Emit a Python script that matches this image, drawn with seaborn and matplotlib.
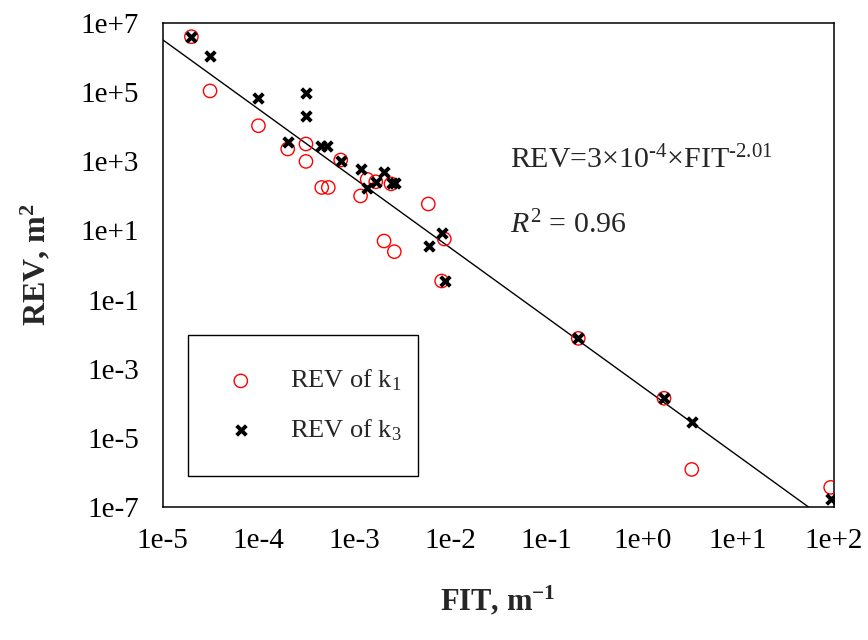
import numpy as np
import pandas as pd
import matplotlib
matplotlib.use("Agg")
import matplotlib.pyplot as plt
import seaborn as sns

# Representative elementary volume (REV) versus fracture intensity (FIT)
fit_k1 = [2.0e-5, 3.13e-5, 1.0e-4, 2.02e-4, 3.13e-4, 3.13e-4, 4.57e-4, 5.35e-4,
          7.21e-4, 1.16e-3, 1.36e-3, 1.67e-3, 2.41e-3, 5.9e-3, 2.04e-3, 2.61e-3,
          8.67e-3, 8.13e-3, 0.216, 1.69, 3.29, 92.3]
rev_k1 = [4.1e6, 1.1e5, 1.08e4, 2.29e3, 3.2e3, 1.0e3, 176, 176,
          1.1e3, 100, 302, 257, 224, 58.5, 4.95, 2.43,
          5.66, 0.344, 7.5e-3, 1.38e-4, 1.2e-6, 3.63e-7]

fit_k3 = [2.0e-5, 3.13e-5, 1.0e-4, 3.13e-4, 3.13e-4, 2.02e-4, 4.49e-4, 5.22e-4,
          7.21e-4, 1.16e-3, 1.36e-3, 1.67e-3, 2.05e-3, 2.49e-3, 2.65e-3, 6.04e-3,
          8.13e-3, 8.81e-3, 0.216, 1.69, 3.29, 92.3]
rev_k3 = [4.1e6, 1.15e6, 6.7e4, 9.8e4, 2.07e4, 3.58e3, 2.8e3, 2.8e3,
          1.03e3, 603, 174, 257, 501, 234, 234, 3.62,
          8.28, 0.344, 7.5e-3, 1.38e-4, 2.88e-5, 1.62e-7]

# Power-law fit REV = a * FIT^b
fit_a = 3e-4
fit_b = -2.01
r_squared = 0.96

x_ticks = [1e-5, 1e-4, 1e-3, 1e-2, 1e-1, 1e0, 1e1, 1e2]
x_tick_labels = ["1e-5", "1e-4", "1e-3", "1e-2", "1e-1", "1e+0", "1e+1", "1e+2"]
y_ticks = [1e-7, 1e-5, 1e-3, 1e-1, 1e1, 1e3, 1e5, 1e7]
y_tick_labels = ["1e-7", "1e-5", "1e-3", "1e-1", "1e+1", "1e+3", "1e+5", "1e+7"]

sns.set_theme(style="white")
plt.rcParams.update({
    "font.family": ["Liberation Serif", "DejaVu Serif"],
    "mathtext.fontset": "custom",
    "mathtext.rm": "Liberation Serif",
    "mathtext.it": "Liberation Serif:italic",
    "mathtext.bf": "Liberation Serif:bold",
    "axes.edgecolor": "black",
    "axes.linewidth": 1.1,
})

fig = plt.figure(figsize=(8.68, 6.4), dpi=100)
ax = fig.add_axes([162.5 / 868, 1 - 506.7 / 640, (834 - 162.5) / 868, (506.7 - 23.3) / 640])

# fitted trend line across the full FIT range
line_x = np.array([x_ticks[0], x_ticks[-1]])
line_df = pd.DataFrame({"FIT": line_x, "REV": fit_a * line_x ** fit_b})
sns.lineplot(data=line_df, x="FIT", y="REV", ax=ax, color="black", linewidth=1.0,
             zorder=2, legend=False)

sns.scatterplot(x=fit_k1, y=rev_k1, ax=ax, marker="o", s=92, facecolor="none",
                edgecolor="#ff0000", linewidth=1.0, label=r"REV of k$_1$", zorder=3)
sns.scatterplot(x=fit_k3, y=rev_k3, ax=ax, marker="x", s=48, color="black",
                linewidth=2.8, label=r"REV of k$_3$", zorder=4)

ax.set_xscale("log")
ax.set_yscale("log")
ax.set_xlim(x_ticks[0], x_ticks[-1])
ax.set_ylim(y_ticks[0], y_ticks[-1])
ax.set_xticks(x_ticks)
ax.set_xticklabels(x_tick_labels)
ax.set_yticks(y_ticks)
ax.set_yticklabels(y_tick_labels)
ax.minorticks_off()
ax.tick_params(axis="both", which="major", direction="out", length=5, width=1.0,
               color="black", labelsize=21, labelcolor="black")
ax.tick_params(axis="x", pad=10)
ax.tick_params(axis="y", pad=12)
for side in ["top", "right", "bottom", "left"]:
    ax.spines[side].set_visible(True)
    ax.spines[side].set_color("black")

ax.set_xlabel(r"FIT, m$^{\mathbf{-1}}$", fontsize=22, fontweight="bold", labelpad=22)
ax.set_ylabel(r"REV, m$^{\mathbf{2}}$", fontsize=23, fontweight="bold", labelpad=20)

ax.text(0.518, 0.700, r"REV=3$\times$10$^{\text{-4}}$$\times$FIT$^{\text{-2.01}}$",
        transform=ax.transAxes, fontsize=21.5, va="baseline", ha="left")
ax.text(0.518, 0.566, r"$R^2$ = " + f"{r_squared:.2f}",
        transform=ax.transAxes, fontsize=21.5, va="baseline", ha="left")

leg = ax.legend(loc="lower left", bbox_to_anchor=(0.038, 0.064, 0.3425, 0.29),
                mode="expand", fontsize=19,
                frameon=True, fancybox=False, edgecolor="black", framealpha=1,
                borderpad=1.25, labelspacing=0.9, handlelength=1.5,
                handletextpad=1.1, borderaxespad=0)
leg.get_frame().set_linewidth(1.0)

fig.savefig("out.png", dpi=100)
